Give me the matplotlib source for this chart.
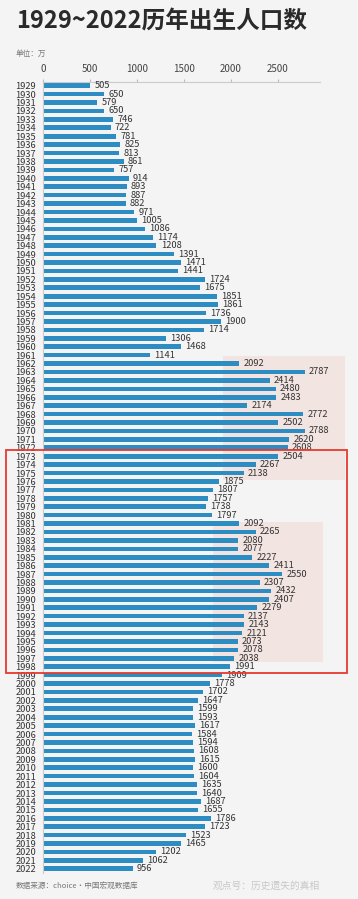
import matplotlib
matplotlib.use("Agg")
import matplotlib.pyplot as plt
from matplotlib.patches import Rectangle

plt.rcParams['font.family'] = ['Noto Sans CJK SC', 'DejaVu Sans']

# 出生人口（万）
years = list(range(1929, 2023))
births = [505, 650, 579, 650, 746, 722, 781, 825, 813, 861,
          757, 914, 893, 887, 882, 971, 1005, 1086, 1174, 1208,
          1391, 1471, 1441, 1724, 1675, 1851, 1861, 1736, 1900, 1714,
          1306, 1468, 1141, 2092, 2787, 2414, 2480, 2483, 2174, 2772,
          2502, 2788, 2620, 2608, 2504, 2267, 2138, 1875, 1807, 1757,
          1738, 1797, 2092, 2265, 2080, 2077, 2227, 2411, 2550, 2307,
          2432, 2407, 2279, 2137, 2143, 2121, 2073, 2078, 2038, 1991,
          1909, 1778, 1702, 1647, 1599, 1593, 1617, 1584, 1594, 1608,
          1615, 1600, 1604, 1635, 1640, 1687, 1655, 1786, 1723, 1523,
          1465, 1202, 1062, 956]
xticks = [0, 500, 1000, 1500, 2000, 2500]

W, H = 358, 899
fig = plt.figure(figsize=(W / 100, H / 100), dpi=100, facecolor='#f4f4f4')

def fx(px):
    return px / W

def fy(py):
    return 1 - py / H

ax = fig.add_axes([fx(43), fy(873), fx(320) - fx(43), fy(82) - fy(873)])
ax.set_facecolor('none')

pos = list(range(len(years)))
ax.barh(pos, births, height=0.55, color='#2d8dc3', zorder=2)
for p, v in zip(pos, births):
    ax.text(v + 45, p, str(v), va='center', ha='left', fontsize=6.7,
            color='#333333', zorder=3)

ax.set_ylim(len(years) - 0.5, -0.44)
ax.set_xlim(0, 2950)
ax.set_yticks(pos)
ax.set_yticklabels([str(y) for y in years], fontsize=6.7, color='#333333')
ax.tick_params(axis='y', length=0, pad=5)
ax.xaxis.tick_top()
ax.set_xticks(xticks)
ax.set_xticklabels([str(t) for t in xticks], fontsize=7, color='#444444')
ax.tick_params(axis='x', length=2, color='#bbbbbb', pad=4)
for s in ['right', 'bottom']:
    ax.spines[s].set_visible(False)
ax.spines['top'].set_color('#cccccc')
ax.spines['left'].set_color('#cccccc')
ax.spines['top'].set_linewidth(0.8)
ax.spines['left'].set_linewidth(0.8)

# 淡红色背景块
for x0, y0, x1, y1 in [(223, 356, 345, 480), (213, 522, 323, 662)]:
    ax.add_patch(Rectangle((fx(x0), fy(y1)), fx(x1) - fx(x0), fy(y0) - fy(y1),
                           transform=fig.transFigure, facecolor='#f1d6cf',
                           alpha=0.5, edgecolor='none', clip_on=False, zorder=0))

# 红框
fig.add_artist(Rectangle((fx(6), fy(673)), fx(347) - fx(6), fy(450) - fy(673),
                         transform=fig.transFigure, facecolor='none',
                         edgecolor='#e53a2f', linewidth=1.3, zorder=5))

fig.text(fx(16), fy(22), '1929~2022历年出生人口数', fontsize=17, fontweight='bold',
         color='#2a2a2a', va='center', ha='left')
fig.text(fx(16), fy(54), '单位：万', fontsize=5.5, color='#777777',
         va='center', ha='left')
fig.text(fx(16), fy(886), '数据来源：choice·中国宏观数据库', fontsize=5.5,
         color='#777777', va='center', ha='left')
fig.text(fx(213), fy(886), '观点号：历史遗失的真相', fontsize=7,
         color='#c8c8c8', va='center', ha='left')

fig.savefig('out.png', dpi=100, facecolor=fig.get_facecolor())
